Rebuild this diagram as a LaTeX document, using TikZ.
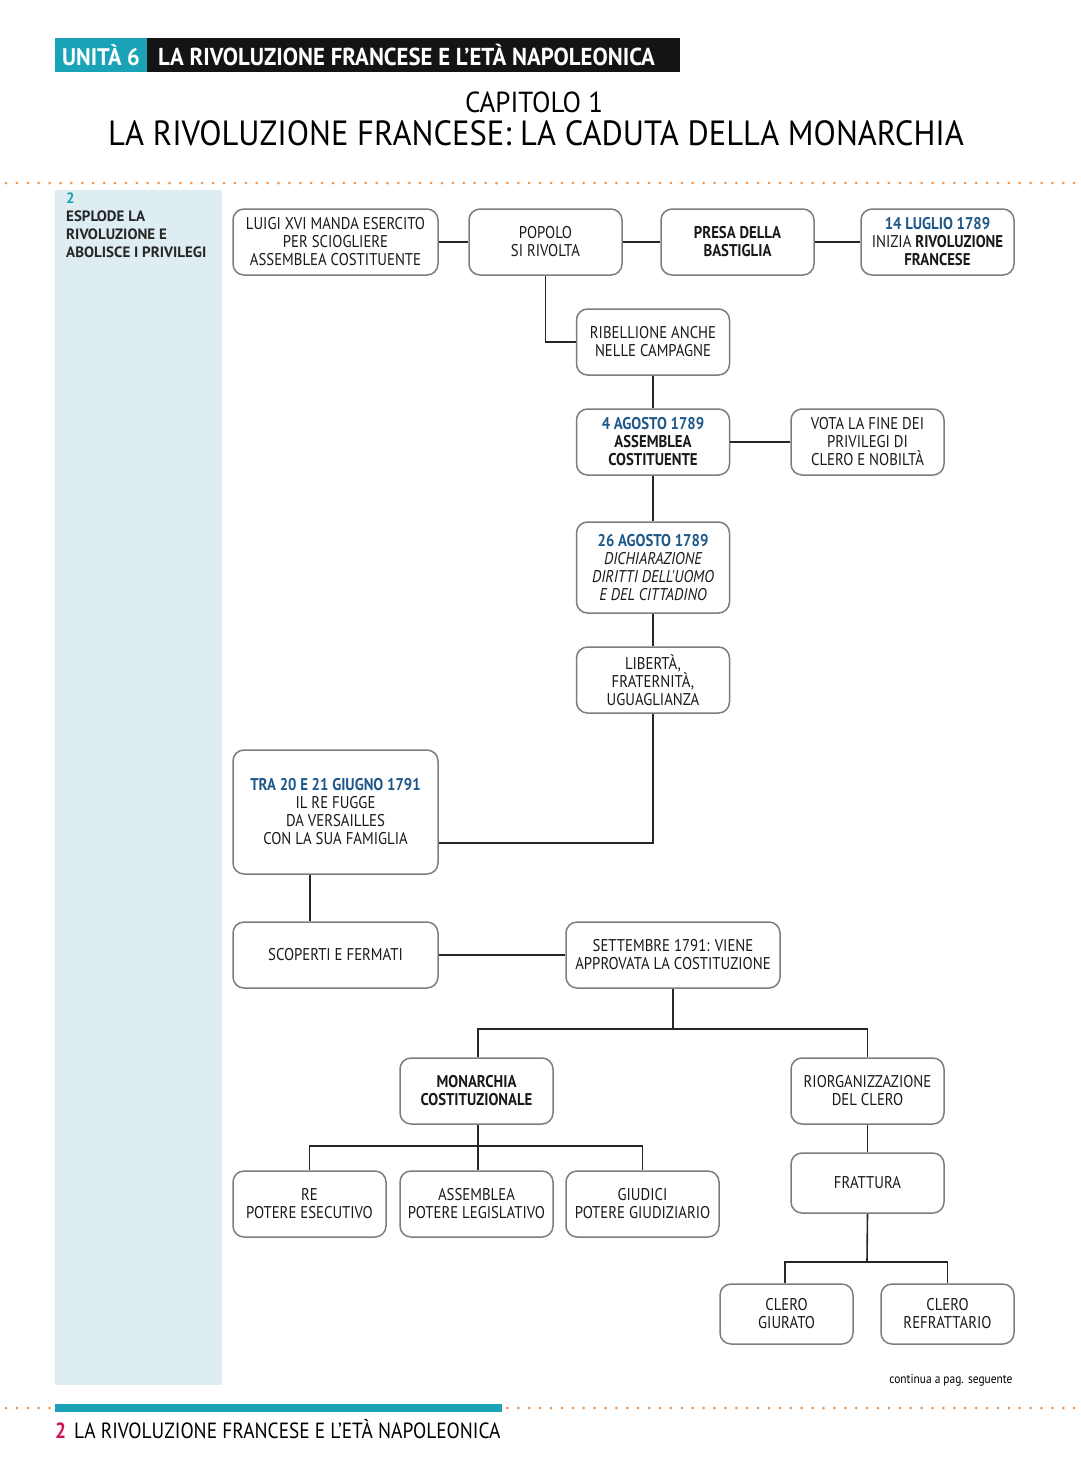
\documentclass[tikz,border=0pt]{standalone}
\usepackage{fontspec}
\setmainfont{PT Sans}
\newfontfamily\narrowfont{PT Sans}[FakeStretch=0.87]
\newfontfamily\footfont{PT Sans}[FakeStretch=0.88]
\newfontfamily\titlefont{PT Sans}[FakeStretch=0.93]
\usepackage{tikz}
\usetikzlibrary{calc, positioning}
\usepackage{xcolor}
\definecolor{unitteal}{RGB}{26,163,182}
\definecolor{panelblue}{RGB}{221,237,242}
\definecolor{dateblue}{RGB}{30,88,138}
\definecolor{dotorange}{RGB}{236,150,80}
\definecolor{pagered}{RGB}{208,20,76}
\definecolor{boxgray}{RGB}{125,125,125}
\newcommand{\datum}[1]{\textcolor{dateblue}{\bfseries #1}}

\begin{document}
\begin{tikzpicture}[
    x=1pt, y=-1pt,
    eventbox/.style={rectangle, draw=boxgray, line width=1.5pt, rounded corners=11pt,
                     fill=white, inner sep=0pt, align=center, text=black!90,
                     minimum width=153pt, minimum height=66pt,
                     font=\narrowfont\fontsize{17}{18}\selectfont},
    link/.style={line width=1.6pt, black!85},
    dotrow/.style={dotorange, line width=3pt, line cap=round, dash pattern=on 0pt off 10.9pt}
]
\useasboundingbox (0,0) rectangle (1080,1473);
%% Page header
\fill[unitteal] (55,38) rectangle (147,72);
\fill[black!92] (147,38) rectangle (680,72);
\node[text=white, font=\titlefont\bfseries\fontsize{24}{26}\selectfont] (unit) at (101,55) {UNITÀ 6};
\node[text=white, anchor=west, inner sep=0pt, font=\titlefont\bfseries\fontsize{24.5}{26}\selectfont] (unittitle) at (158,55)
    {LA RIVOLUZIONE FRANCESE E L’ETÀ NAPOLEONICA};
\node[font=\titlefont\fontsize{29}{30}\selectfont] (chapter) at (534,102) {CAPITOLO 1};
\node[font=\titlefont\fontsize{35}{36}\selectfont] (chaptitle) at (536,133)
    {LA RIVOLUZIONE FRANCESE: LA CADUTA DELLA MONARCHIA};
\draw[dotrow] (6,183) -- (1080,183);
%% Left side panel
\fill[panelblue] (55,190) rectangle (222,1385);
\node[anchor=north west, align=left, inner sep=0pt, text=black!85,
      font=\bfseries\fontsize{15}{18}\selectfont] (section) at (66,193)
    {\textcolor{unitteal}{2}\\ESPLODE LA\\RIVOLUZIONE E\\ABOLISCE I PRIVILEGI};
%% Events of 1789
\node[eventbox, minimum width=205pt] (luigi) at (335.5,242) {LUIGI XVI MANDA ESERCITO\\PER SCIOGLIERE\\ASSEMBLEA COSTITUENTE};
\node[eventbox] (popolo) at (545.5,242) {POPOLO\\SI RIVOLTA};
\node[eventbox] (presa) at (737.5,242) {\bfseries PRESA DELLA\\\bfseries BASTIGLIA};
\node[eventbox] (luglio) at (937.5,242) {\datum{14 LUGLIO 1789}\\INIZIA \textbf{RIVOLUZIONE}\\\textbf{FRANCESE}};
\node[eventbox] (ribellione) at (653,342) {RIBELLIONE ANCHE\\NELLE CAMPAGNE};
\node[eventbox] (agosto4) at (653,442) {\datum{4 AGOSTO 1789}\\\textbf{ASSEMBLEA}\\\textbf{COSTITUENTE}};
\node[eventbox] (vota) at (867.5,442) {VOTA LA FINE DEI\\PRIVILEGI DI\\CLERO E NOBILTÀ};
\node[eventbox, minimum height=91pt] (agosto26) at (653,567.5)
    {\datum{26 AGOSTO 1789}\\\itshape DICHIARAZIONE\\\itshape DIRITTI DELL'UOMO\\\itshape E DEL CITTADINO};
\node[eventbox] (liberta) at (653,680) {LIBERTÀ,\\FRATERNITÀ,\\UGUAGLIANZA};
%% Events of 1791
\node[eventbox, minimum width=205pt, minimum height=124pt] (fuga) at (335.5,812)
    {\datum{TRA 20 E 21 GIUGNO 1791}\\IL RE FUGGE\\DA VERSAILLES\\CON LA SUA FAMIGLIA};
\node[eventbox, minimum width=205pt] (scoperti) at (335.5,955) {SCOPERTI E FERMATI};
\node[eventbox, minimum width=214pt] (settembre) at (673,955) {SETTEMBRE 1791: VIENE\\APPROVATA LA COSTITUZIONE};
\node[eventbox] (monarchia) at (476.5,1091) {\bfseries MONARCHIA\\\bfseries COSTITUZIONALE};
\node[eventbox] (riorg) at (867.5,1091) {RIORGANIZZAZIONE\\DEL CLERO};
\node[eventbox] (re) at (309.5,1204) {RE\\POTERE ESECUTIVO};
\node[eventbox] (assemblea) at (476.5,1204) {ASSEMBLEA\\POTERE LEGISLATIVO};
\node[eventbox] (giudici) at (642.5,1204) {GIUDICI\\POTERE GIUDIZIARIO};
\node[eventbox, minimum height=60pt] (frattura) at (867.5,1183) {FRATTURA};
\node[eventbox, minimum width=133pt, minimum height=60pt] (giurato) at (786.5,1314) {CLERO\\GIURATO};
\node[eventbox, minimum width=133pt, minimum height=60pt] (refrattario) at (947.5,1314) {CLERO\\REFRATTARIO};
%% Connectors
\draw[link] (luigi) -- (popolo);
\draw[link] (popolo) -- (presa);
\draw[link] (presa) -- (luglio);
\draw[link] (popolo.south) |- (ribellione.west);
\draw[link] (ribellione) -- (agosto4);
\draw[link] (agosto4) -- (vota);
\draw[link] (agosto4) -- (agosto26);
\draw[link] (agosto26) -- (liberta);
\draw[link] (liberta.south) |- ($(fuga.east)+(0,31)$);
\draw[link] ($(fuga.south)+(-25.5,0)$) -- ($(scoperti.north)+(-25.5,0)$);
\draw[link] (scoperti) -- (settembre);
\coordinate (forkcost) at (673,1029);
\coordinate (forkpow) at (478,1146);
\coordinate (forkclero) at (867,1262);
\draw[link] (settembre.south) -- (forkcost);
\draw[link] ($(monarchia.north)+(1.5,0)$) |- (forkcost) -| (riorg.north);
\draw[link] ($(monarchia.south)+(1.5,0)$) -- (forkpow);
\draw[link] (re.north) |- (forkpow) -| (giudici.north);
\draw[link] (forkpow) -- ($(assemblea.north)+(1.5,0)$);
\draw[link] (riorg) -- (frattura);
\draw[link] (frattura.south) -- (forkclero);
\draw[link] ($(giurato.north)+(-1.5,0)$) |- (forkclero) -| (refrattario.north);
%% Page footer
\node[anchor=east, font=\footfont\fontsize{13}{14}\selectfont] (continua) at (1016,1380) {continua a pag. seguente};
\draw[dotrow] (6,1408) -- (1080,1408);
\fill[unitteal] (55,1404) rectangle (502,1412);
\node[anchor=west, inner sep=0pt, font=\footfont\fontsize{22}{24}\selectfont] (pagefoot) at (55,1429)
    {\textcolor{pagered}{\bfseries 2}\hspace{8pt}LA RIVOLUZIONE FRANCESE E L’ETÀ NAPOLEONICA};
\end{tikzpicture}
\end{document}
